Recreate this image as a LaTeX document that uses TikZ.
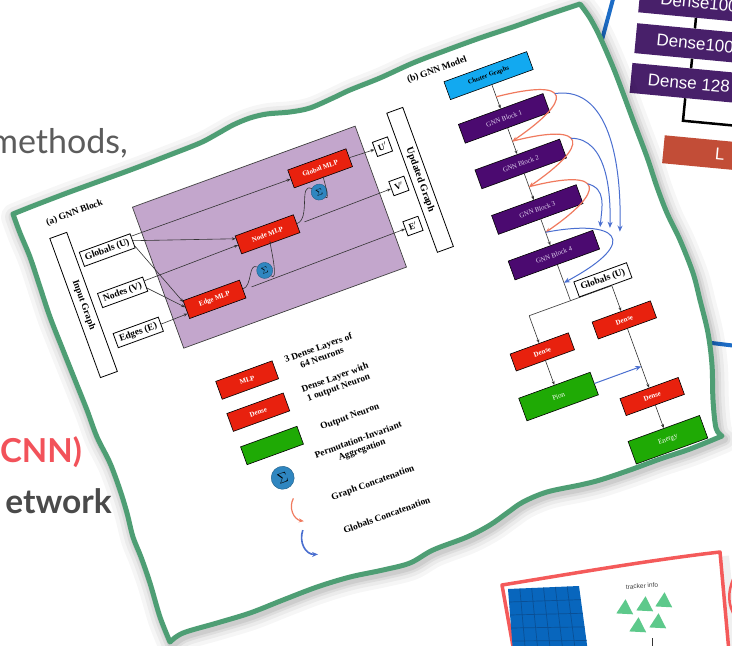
\documentclass[tikz,border=0pt]{standalone}
\usepackage{fontspec}
\setmainfont{Liberation Serif}
\newfontfamily\latofont{Lato}
\newfontfamily\arialfont{Liberation Sans}
\usetikzlibrary{arrows.meta,calc,shapes.geometric}
\definecolor{paperGreen}{HTML}{4E9E74}
\definecolor{bgPurple}{HTML}{C3A6CC}
\definecolor{mlpRed}{HTML}{E8210E}
\definecolor{gnnPurple}{HTML}{4B0A70}
\definecolor{gnnText}{HTML}{E2D4F0}
\definecolor{clusterCyan}{HTML}{12A9F0}
\definecolor{outGreen}{HTML}{1FAA05}
\definecolor{sigmaBlue}{HTML}{2F86C0}
\definecolor{graphOrange}{HTML}{F07A5E}
\definecolor{globBlue}{HTML}{4A6FD0}
\definecolor{textGray}{HTML}{5C5C5C}
\definecolor{textDark}{HTML}{4A4A4A}
\definecolor{cnnRed}{HTML}{F2525A}
\definecolor{cardBlue}{HTML}{1C6CC6}
\definecolor{cardPurple}{HTML}{48206A}
\definecolor{cardBrick}{HTML}{C24D37}
\definecolor{cardRed}{HTML}{F45A5A}
\definecolor{gridBlue}{HTML}{0866BD}
\definecolor{gridLine}{HTML}{0A4F95}
\definecolor{triGreen}{HTML}{5DC98B}
\tikzset{
 paperpath/.style={insert path={
  plot[smooth,tension=0.55] coordinates {(13,214) (33,206) (67,193) (100,181) (133,169) (167,156) (200,143) (217,134) (233,125) (250,118) (267,114) (290,112) (310,108) (333,98) (350,90) (380,78) (413,63) (447,50) (480,38) (513,27) (547,15) (580,4)}
  -- plot[smooth,tension=0.55] coordinates {(580,4) (590,18) (600,37) (613,67) (623,93) (633,120) (647,157) (657,187) (667,213) (680,240) (693,273) (700,300) (708,333) (712,365) (713,400) (716,428) (722,436)}
  -- plot[smooth,tension=0.55] coordinates {(722,436) (690,449) (660,459) (630,470) (600,480) (580,485) (547,492) (523,502) (507,513) (490,525) (467,537) (433,550) (410,563) (383,570) (350,577) (317,587) (283,600) (250,613) (217,623) (183,633) (170,642)}
  -- plot[smooth,tension=0.55] coordinates {(170,642) (160,617) (150,583) (141,557) (133,537) (127,513) (120,490) (110,463) (97,437) (87,410) (77,385) (63,350) (50,317) (40,287) (30,257) (20,233) (13,214)}
  -- cycle}},
 line/.style={draw=black!80, line width=0.6pt},
 arr/.style={line, -{Stealth[length=4pt,width=3pt]}},
 orangearr/.style={draw=graphOrange, line width=1.2pt, -{Stealth[length=5pt,width=4pt]}},
 bluearr/.style={draw=globBlue, line width=1pt, -{Stealth[length=6pt,width=5pt]}},
 fbox/.style={draw=black, line width=0.8pt, fill=white, inner sep=0pt, font=\bfseries\fontsize{9.5}{10}\selectfont},
 redbox/.style={draw=black, line width=0.6pt, fill=mlpRed, text=white, inner sep=0pt, minimum width=62pt, minimum height=19pt, font=\bfseries\fontsize{7}{8}\selectfont},
 gnnbox/.style={draw=black, line width=0.6pt, fill=gnnPurple, text=gnnText, inner sep=0pt, minimum width=90pt, minimum height=20pt, font=\fontsize{6.8}{8}\selectfont},
 greenbox/.style={draw=black, line width=0.6pt, fill=outGreen, text=white, inner sep=0pt, minimum width=76pt, minimum height=24pt, font=\fontsize{7}{8}\selectfont},
 sigmanode/.style={circle, fill=sigmaBlue, draw=sigmaBlue!70!black, line width=0.4pt, inner sep=0pt, minimum size=16pt, font=\fontsize{9}{9}\selectfont},
 legendtext/.style={align=center, inner sep=0pt, font=\bfseries\fontsize{9.4}{10.5}\selectfont},
 cardbox/.style={fill=cardPurple, inner sep=0pt, minimum width=150pt, minimum height=30pt, anchor=north west},
 cardtext/.style={text=white, inner sep=0pt, anchor=west, font=\arialfont\fontsize{17}{20}\selectfont},
 cardline/.style={draw=black, line width=2.5pt},
 tri/.style={regular polygon, regular polygon sides=3, minimum size=19.5pt, inner sep=0pt, fill=triGreen, rotate=-3},
}
\begin{document}
\begin{tikzpicture}[x=1pt,y=-1pt]
\useasboundingbox (0,0) rectangle (732,646);
\clip (0,0) rectangle (732,646);
% background slide text
\node[font=\latofont\fontsize{34}{40}\selectfont, text=textGray, anchor=base east, inner sep=0pt] (tmeth) at (128,153) {methods,};
\node[font=\latofont\bfseries\fontsize{33}{40}\selectfont, text=cnnRed, anchor=base east, inner sep=0pt] (tcnn) at (82,462) {CNN)};
\node[font=\latofont\bfseries\fontsize{33.5}{40}\selectfont, text=textDark, anchor=base east, inner sep=0pt] (tnet) at (112,513) {etwork};

% top-right card
\draw[cardBlue, line width=4pt, fill=white] (616,-12) -- (596,62) -- (662,337) -- (745,347) -- (745,-12) -- cycle;
\begin{scope}[shift={(637,23)}, rotate=-5.4, transform shape]
 \node[cardbox] (dA) at (0,-41) {};
 \node[cardbox] (dB) at (0,0) {};
 \node[cardbox] (dC) at (-1,40) {};
 \node[cardbox, fill=cardBrick, minimum width=160pt, minimum height=28pt] (dL) at (38,109) {};
 \node[cardtext] (tA) at (21,-26) {Dense100};
 \node[cardtext] (tB) at (21,15) {Dense100};
 \node[cardtext] (tC) at (16,55) {Dense 128};
 \node[cardtext] (tL) at (90,123) {L};
 \draw[cardline] ($(dA.south west)!0.387!(dA.south east)$) -- ($(dB.north west)!0.387!(dB.north east)$);
 \draw[cardline] ($(dB.south west)!0.387!(dB.south east)$) -- ($(dC.north west)!0.393!(dC.north east)$);
 \coordinate (cc1) at (55,93);
 \coordinate (cc2) at (170,93);
 \draw[cardline] ($(dC.south west)!0.373!(dC.south east)$) -- (cc1) -- (cc2);
\end{scope}

% bottom-right card
\draw[black, opacity=0.06, line width=10pt] (724,556) -- (734,652);
\draw[cardRed, line width=3.5pt, fill=white, line join=round] (502,585) .. controls (570,574) and (650,560) .. (720,552) -- (729,652) -- (514,652) -- cycle;
\fill[gridBlue] (508,589) -- (579,586) -- (588,652) -- (513,652) -- cycle;
\foreach \f in {0.1667,0.3333,0.5,0.6667,0.8333}{
 \draw[gridLine, line width=0.7pt] ($(508,589)!\f!(579,586)$) -- ($(513,652)!\f!(588,652)$);}
\foreach \f in {0.213,0.426,0.639,0.852}{
 \draw[gridLine, line width=0.7pt] ($(508,589)!\f!(513,650)$) -- ($(579,586)!\f!(588,650)$);}
\node[tri] (tr1) at (625,609) {};
\node[tri] (tr2) at (645,606) {};
\node[tri] (tr3) at (664,602) {};
\node[tri] (tr4) at (638,627) {};
\node[tri] (tr5) at (658,623) {};
\node[font=\arialfont\fontsize{6.5}{7}\selectfont, text=black!75, rotate=4, inner sep=0pt] (ti) at (642,586) {tracker info};
\coordinate (vl1) at (652,638);
\coordinate (vl2) at (652,652);
\draw[black!80, line width=1pt] (vl1) -- (vl2);
\draw[cardRed, line width=2.5pt] (736,573) .. controls (727,590) and (727,605) .. (736,618);

% paper shadow, paper, figure
\foreach \w/\o in {28pt/0.035,20pt/0.045,13pt/0.06,8pt/0.07}{
 \draw[shift={(2,3)}, line width=\w, black, opacity=\o, line join=round, paperpath];}
\fill[white, paperpath];
\begin{scope}
\clip[paperpath];
\begin{scope}[shift={(132,207)}, rotate=20, transform shape]
 % (a) GNN block
 \node[font=\bfseries\fontsize{9.4}{10}\selectfont, inner sep=0pt] (ta) at (-56,-14) {(a) GNN Block};
 \node[draw=black!75, line width=0.7pt, fill=bgPurple, minimum width=237pt, minimum height=150pt, anchor=north west, inner sep=0pt] (pbox) at (0,0) {};
 \node[fbox, rotate=-90, minimum width=148pt, minimum height=18pt] (ing) at (-79,75.5) {Input Graph};
 \node[fbox, minimum width=54pt, minimum height=15pt] (gU) at (-38,32) {Globals (U)};
 \node[fbox, minimum width=48pt, minimum height=15pt] (nV) at (-38,77) {Nodes (V)};
 \node[fbox, minimum width=48pt, minimum height=15pt] (eE) at (-37,120) {Edges (E)};
 \node[redbox, minimum width=60pt] (emlp) at (46,115) {Edge MLP};
 \node[redbox] (nmlp) at (118,72) {Node MLP};
 \node[redbox] (gmlp) at (190,28) {Global MLP};
 \node[sigmanode] (s1) at (103,105) {$\Sigma$};
 \node[sigmanode] (s2) at (181,50) {$\Sigma$};
 \node[fbox, minimum width=16pt, minimum height=15pt, font=\bfseries\fontsize{9}{9}\selectfont] (uP) at (256,29) {U$'$};
 \node[fbox, minimum width=16pt, minimum height=15pt, font=\bfseries\fontsize{9}{9}\selectfont] (vP) at (258,71.5) {V$'$};
 \node[fbox, minimum width=16pt, minimum height=15pt, font=\bfseries\fontsize{9}{9}\selectfont] (eP) at (257.5,114) {E$'$};
 \node[fbox, rotate=-90, minimum width=148pt, minimum height=17pt, font=\bfseries\fontsize{10}{10}\selectfont] (upg) at (280,73) {Updated Graph};
 \draw[arr] (gU.10) -- (gmlp.west);
 \draw[arr] (gU.east) -- (nmlp.168);
 \draw[arr] (gU.-12) -- (emlp.165);
 \draw[arr] (nV.8) -- (nmlp.west);
 \draw[arr] (nV.-10) -- (emlp.175);
 \draw[arr] (eE.east) -- (emlp.188);
 \draw[line] (emlp.east) to[out=0,in=135] (s1);
 \draw[line] (s1) to[out=-60,in=90] (nmlp.south);
 \draw[line] (nmlp.east) to[out=0,in=135] (s2);
 \draw[line] (s2) to[out=-60,in=90] (gmlp.south);
 \coordinate (eStart) at (85,116);
 \coordinate (vStart) at (157,73);
 \draw[arr] (eStart) -- (eP.west);
 \draw[arr] (vStart) -- (vP.west);
 \draw[arr] (gmlp.east) -- (uP.west);
 % (b) GNN model
 \node[font=\bfseries\fontsize{9.4}{10}\selectfont, inner sep=0pt] (tb) at (333.5,-24.4) {(b) GNN Model};
 \node[draw=black, line width=0.6pt, fill=clusterCyan, minimum width=88pt, minimum height=19pt, inner sep=0pt, font=\bfseries\fontsize{6.5}{7}\selectfont] (cg) at (380,-1.5) {Cluster Graphs};
 \node[gnnbox] (b1) at (380,44) {GNN Block 1};
 \node[gnnbox] (b2) at (380,92.5) {GNN Block 2};
 \node[gnnbox] (b3) at (380,141) {GNN Block 3};
 \node[gnnbox] (b4) at (380,189.5) {GNN Block 4};
 \coordinate (jn) at (380,238);
 \coordinate (lb) at (336,238);
 \coordinate (rb) at (424,238);
 \draw[arr] (cg.south) -- (b1.north);
 \draw[arr] (b1.south) -- (b2.north);
 \draw[arr] (b2.south) -- (b3.north);
 \draw[arr] (b3.south) -- (b4.north);
 \draw[line] (b4.south) -- (jn);
 \draw[line] (lb) -- (rb);
 \coordinate (m1) at ($(cg.south)!0.5!(b1.north)$);
 \coordinate (m2) at ($(b1.south)!0.5!(b2.north)$);
 \coordinate (m3) at ($(b2.south)!0.5!(b3.north)$);
 \coordinate (m4) at ($(b3.south)!0.5!(b4.north)$);
 \coordinate (m5) at ($(b4.south)!0.5!(jn)$);
 \draw[orangearr] (m1) .. controls +(80,8) and +(70,-18) .. (m2);
 \draw[orangearr] (m2) .. controls +(80,8) and +(70,-18) .. (m3);
 \draw[orangearr] (m3) .. controls +(80,8) and +(70,-18) .. (m4);
 \coordinate (o1) at (436,38);
 \coordinate (o2) at (436,85.5);
 \coordinate (o3) at (436,134);
 \coordinate (k1) at (450,190);
 \coordinate (k2) at (442,183);
 \coordinate (k3) at (433,179);
 \draw[bluearr] (o1) .. controls (495,50) and (470,140) .. (k1);
 \draw[bluearr] (o2) .. controls (470,98) and (455,150) .. (k2);
 \draw[bluearr] (o3) .. controls (452,145) and (442,160) .. (k3);
 \draw[bluearr] (m4) .. controls +(70,11) and +(90,-13) .. (m5);
 \node[fbox, minimum width=56pt, minimum height=16pt] (gU2) at (417.6,229.5) {Globals (U)};
 \node[redbox, minimum height=18pt] (dl) at (336,276.5) {Dense};
 \node[redbox, minimum height=18pt] (dr1) at (424,274.5) {Dense};
 \node[greenbox] (pion) at (336,324) {Pion};
 \node[redbox, minimum height=18pt] (dr2) at (424,356) {Dense};
 \node[greenbox] (energy) at (424,402) {Energy};
 \draw[arr] (lb) -- (dl.north);
 \draw[arr] (rb) -- (dr1.north);
 \draw[arr] (dl) -- (pion);
 \draw[arr] (dr1) -- (dr2);
 \draw[arr] (dr2) -- (energy);
 \coordinate (pj) at ($(dr1.south)!0.638!(dr2.north)$);
 \draw[bluearr] (pion.east) -- (pj);
 % legend
 \node[redbox, minimum width=60pt] (lmlp) at (49,202) {MLP};
 \node[redbox, minimum width=60pt] (lden) at (48.5,236) {Dense};
 \node[greenbox, minimum width=60pt, minimum height=19pt] (lout) at (50,272) {};
 \node[sigmanode, minimum size=23pt, font=\fontsize{14}{14}\selectfont] (lsig) at (49,306) {$\Sigma$};
 \coordinate (lo1) at (52,329);
 \coordinate (lo2) at (54,354);
 \draw[orangearr] (lo1) .. controls (44,336) and (45,349) .. (lo2);
 \coordinate (lb1) at (50,362);
 \coordinate (lb2) at (56,390);
 \draw[bluearr, line width=1.6pt] (lb1) .. controls (42,372) and (44,386) .. (lb2);
 \node[legendtext] (lt1) at (127,201) {3 Dense Layers of\\64 Neurons};
 \node[legendtext] (lt2) at (132.4,235.5) {Dense Layer with\\1 output Neuron};
 \node[legendtext] (lt3) at (133,272) {Output Neuron};
 \node[legendtext] (lt4) at (133,302) {Permutation-Invariant\\Aggregation};
 \node[legendtext] (lt5) at (132,342) {Graph Concatenation};
 \node[legendtext] (lt6) at (134,376.6) {Globals Concatenation};
\end{scope}
\end{scope}
\draw[paperGreen, line width=5pt, line join=round, paperpath];
\end{tikzpicture}
\end{document}
